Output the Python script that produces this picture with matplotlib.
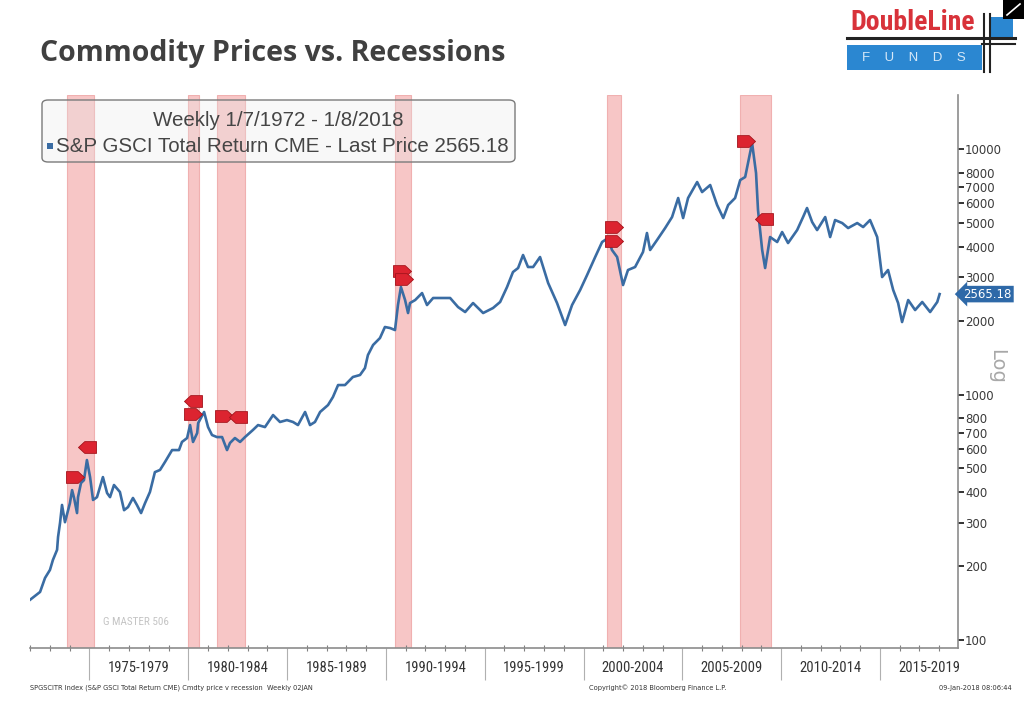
import matplotlib

matplotlib.use("Agg")
import matplotlib.pyplot as plt
from matplotlib import font_manager
from matplotlib.patches import FancyBboxPatch, Rectangle
from matplotlib.path import Path
from matplotlib.lines import Line2D

# --- data (weekly series, thinned) ---
years = [
    1972.00, 1972.50, 1972.75, 1973.00, 1973.15, 1973.36, 1973.41, 1973.51, 1973.61, 1973.76,
    1974.01, 1974.12, 1974.22, 1974.37, 1974.42, 1974.57, 1974.72, 1974.87, 1975.03, 1975.18,
    1975.38, 1975.68, 1975.89, 1976.04, 1976.24, 1976.54, 1976.75, 1976.95, 1977.20, 1977.40,
    1977.61, 1977.81, 1978.06, 1978.31, 1978.57, 1978.82, 1979.18, 1979.53, 1979.68, 1979.94,
    1980.09, 1980.24, 1980.45, 1980.50, 1980.80, 1981.00, 1981.20, 1981.45, 1981.71, 1981.96,
    1982.11, 1982.36, 1982.62, 1982.87, 1983.27, 1983.53, 1983.88, 1984.29, 1984.64, 1984.99,
    1985.30, 1985.55, 1985.91, 1986.16, 1986.41, 1986.67, 1987.07, 1987.32, 1987.58, 1987.93,
    1988.33, 1988.69, 1988.94, 1989.09, 1989.35, 1989.70, 1989.95, 1990.21, 1990.46, 1990.61,
    1990.76, 1990.97, 1991.12, 1991.22, 1991.48, 1991.83, 1992.08, 1992.39, 1992.74, 1993.25,
    1993.65, 1994.01, 1994.41, 1994.92, 1995.42, 1995.78, 1996.13, 1996.43, 1996.69, 1996.94,
    1997.19, 1997.45, 1997.80, 1998.21, 1998.66, 1999.07, 1999.42, 1999.83, 2000.18, 2000.59,
    2000.94, 2001.24, 2001.44, 2001.70, 2002.00, 2002.25, 2002.61, 2003.01, 2003.21, 2003.37,
    2003.72, 2004.13, 2004.48, 2004.79, 2005.04, 2005.29, 2005.75, 2006.00, 2006.41, 2006.76,
    2007.07, 2007.32, 2007.67, 2007.93, 2008.18, 2008.53, 2008.73, 2008.83, 2009.04, 2009.19,
    2009.44, 2009.80, 2010.05, 2010.35, 2010.81, 2011.11, 2011.31, 2011.57, 2011.82, 2012.23,
    2012.48, 2012.73, 2013.09, 2013.39, 2013.85, 2014.15, 2014.50, 2014.86, 2015.11, 2015.41,
    2015.67, 2015.92, 2016.12, 2016.43, 2016.78, 2017.14, 2017.54, 2017.90, 2018.02,
]
prices = [
    146, 157, 179, 193, 212, 233, 263, 300, 355, 302,
    361, 408, 379, 329, 382, 436, 448, 541, 461, 372,
    382, 461, 397, 382, 428, 401, 338, 348, 379, 355,
    329, 361, 401, 483, 493, 531, 594, 594, 641, 665,
    751, 641, 697, 765, 849, 737, 684, 671, 671, 594,
    635, 665, 641, 671, 717, 751, 737, 825, 773, 787,
    773, 751, 849, 751, 773, 849, 906, 977, 1093, 1093,
    1179, 1201, 1282, 1448, 1591, 1699, 1884, 1866, 1831, 2315,
    2741, 2426, 2148, 2359, 2426, 2590, 2315, 2473, 2473, 2473,
    2272, 2168, 2359, 2148, 2251, 2382, 2741, 3155, 3276, 3701,
    3307, 3307, 3632, 2846, 2359, 1919, 2315, 2666, 3067, 3632,
    4181, 4341, 3879, 3632, 2793, 3215, 3307, 3806, 4549, 3879,
    4259, 4766, 5284, 6316, 5235, 6316, 7338, 6680, 7135, 5915,
    5235, 5915, 6316, 7477, 7691, 10580, 7984, 5643, 3879, 3276,
    4381, 4181, 4591, 4141, 4677, 5284, 5751, 5041, 4677, 5284,
    4381, 5137, 4995, 4766, 4995, 4811, 5137, 4381, 3010, 3215,
    2666, 2359, 1974, 2426, 2209, 2382, 2168, 2382, 2565.18,
]
last_price = 2565.18

rec_start = [1973.87, 1980.00, 1981.47, 1990.47, 2001.19, 2007.92]
rec_end = [1975.22, 1980.55, 1982.88, 1991.27, 2001.90, 2009.49]

marker_years = [1974.27, 1974.87, 1980.24, 1980.24, 1981.81, 1982.52, 1990.82, 1990.92, 2001.55, 2001.55, 2008.23, 2009.14]
marker_values = [461, 611, 940, 833, 817, 809, 3185, 2953, 4811, 4220, 10780, 5186]
marker_dirs = ["r", "l", "l", "r", "r", "l", "r", "r", "r", "r", "r", "l"]

period_starts = [1975, 1980, 1985, 1990, 1995, 2000, 2005, 2010, 2015]
period_labels = ["1975-1979", "1980-1984", "1985-1989", "1990-1994", "1995-1999",
                 "2000-2004", "2005-2009", "2010-2014", "2015-2019"]

ytick_values = [100, 200, 300, 400, 500, 600, 700, 800, 1000,
                2000, 3000, 4000, 5000, 6000, 7000, 8000, 10000]


def pick_font(*names):
    have = {f.name for f in font_manager.fontManager.ttflist}
    for n in names:
        if n in have:
            return n
    return "DejaVu Sans"


NARROW = pick_font("Liberation Sans Narrow", "Roboto Condensed", "Lato")
SANS = pick_font("Liberation Sans", "DejaVu Sans")
TITLE_FONT = pick_font("Open Sans", "Lato", "Noto Sans")

LINE_BLUE = "#3a6ca3"
BAND = "#f7c6c6"
TXT = "#3a3a3a"

W, H = 1024, 705
fig = plt.figure(figsize=(W / 100, H / 100), dpi=100)
fig.patch.set_facecolor("white")


def fx(px):
    return px / W


def fy(py):
    return 1 - py / H


ax = fig.add_axes([fx(30), fy(648), fx(958) - fx(30), fy(95) - fy(648)])
ax.set_yscale("log")
ax.set_xlim(1971.99, 2018.95)
ax.set_ylim(92.8, 16600)

for s, e in zip(rec_start, rec_end):
    ax.axvspan(s, e, facecolor=BAND, edgecolor="#f0b0b0", lw=0.8, zorder=1)

# legend box sits in the axes so the recession bands show through its fill
ax.add_patch(FancyBboxPatch((fx(42), fy(162)), fx(515) - fx(42), fy(100) - fy(162),
                            boxstyle="round,pad=0,rounding_size=0.006",
                            transform=fig.transFigure, fc=(0.91, 0.91, 0.91, 0.3),
                            ec="#7a7a7a", lw=1.0, zorder=2, clip_on=False))

ax.plot(years, prices, color=LINE_BLUE, lw=1.9, zorder=3, solid_joinstyle="round")

# recession start/end flags
right_flag = Path([(-1, -0.65), (0.3, -0.65), (1, 0), (0.3, 0.65), (-1, 0.65), (-1, -0.65)])
left_flag = Path([(1, -0.65), (-0.3, -0.65), (-1, 0), (-0.3, 0.65), (1, 0.65), (1, -0.65)])
for xv, yv, d in zip(marker_years, marker_values, marker_dirs):
    ax.plot([xv], [yv], marker=right_flag if d == "r" else left_flag, ms=13,
            mfc="#dc2430", mec="#a3141c", mew=0.6, ls="none", zorder=4)

# spines
for side in ("top", "left"):
    ax.spines[side].set_visible(False)
ax.spines["right"].set_color("#8c8c8c")
ax.spines["bottom"].set_color("#8c8c8c")
ax.spines["right"].set_linewidth(1.2)
ax.spines["bottom"].set_linewidth(1.2)

# right log axis
ax.yaxis.tick_right()
ax.set_yticks(ytick_values)
ax.set_yticklabels([str(v) for v in ytick_values])
ax.yaxis.set_minor_locator(matplotlib.ticker.NullLocator())
ax.tick_params(axis="y", which="major", direction="out", length=4, width=1.4,
               color="#333333", labelsize=8.5, labelcolor=TXT, pad=1)

# bottom axis: yearly minor ticks, long separators every 5 years
ax.set_xticks(period_starts)
ax.set_xticklabels([])
ax.set_xticks(range(1972, 2019), minor=True)
ax.tick_params(axis="x", which="major", direction="out", length=23, width=0.8, color="#b0b0b0")
ax.tick_params(axis="x", which="minor", direction="inout", length=5, width=0.8, color="#808080")
for s, lab in zip(period_starts, period_labels):
    ax.text(s + 2.5, -0.036, lab, transform=ax.get_xaxis_transform(), ha="center", va="center",
            fontsize=10.5, color="#333333", family=NARROW)

# last price tag
ax.text(1.006, last_price, f"{last_price:.2f}", transform=ax.get_yaxis_transform(),
        ha="left", va="center", fontsize=8.5, color="white", zorder=6,
        bbox=dict(boxstyle="larrow,pad=0.15", fc="#2e69a8", ec="none"), clip_on=False)

fig.text(fx(997), fy(366), "Log", rotation=270, ha="center", va="center",
         fontsize=14, color="#a8a8a8")
fig.text(fx(103), fy(622), "G MASTER 506", ha="left", va="center", fontsize=8,
         color="#c4c4c4", family=NARROW)

# legend text
fig.text(fx(278), fy(121), "Weekly 1/7/1972 - 1/8/2018", ha="center", va="center",
         fontsize=14.8, color="#454545", family=SANS, zorder=6)
fig.add_artist(Rectangle((fx(47), fy(149)), fx(6), fy(143) - fy(149), transform=fig.transFigure,
                         fc=LINE_BLUE, ec="none", zorder=6))
fig.text(fx(56), fy(146), "S&P GSCI Total Return CME - Last Price 2565.18", ha="left",
         va="center", fontsize=14.8, color="#454545", family=SANS, zorder=6)

# title
fig.text(fx(40), fy(53), "Commodity Prices vs. Recessions", ha="left", va="center",
         fontsize=20.5, fontweight="bold", color="#404040", family=TITLE_FONT)

# DoubleLine logo
fig.text(fx(913), fy(22), "DoubleLine", ha="center", va="center", fontsize=20,
         fontweight="bold", color="#d8323a", family=NARROW)
fig.add_artist(Rectangle((fx(847), fy(70)), fx(982) - fx(847), fy(45) - fy(70),
                         transform=fig.transFigure, fc="#2b87d1", ec="none"))
fig.add_artist(Rectangle((fx(989), fy(37)), fx(1013) - fx(989), fy(17) - fy(37),
                         transform=fig.transFigure, fc="#2b87d1", ec="none"))
fig.text(fx(914), fy(58), "F    U    N    D    S", ha="center", va="center", fontsize=9.5,
         color="#d6e8f7", family=SANS)
fig.add_artist(Line2D([fx(847), fx(1015)], [fy(38), fy(38)], transform=fig.transFigure,
                      color="#222222", lw=2.2))
fig.add_artist(Line2D([fx(982), fx(1015)], [fy(44), fy(44)], transform=fig.transFigure,
                      color="#222222", lw=1.5))
for vx in (984, 990):
    fig.add_artist(Line2D([fx(vx), fx(vx)], [fy(14), fy(72)], transform=fig.transFigure,
                          color="#222222", lw=1.5))
fig.add_artist(Rectangle((fx(1003), fy(19)), fx(21), fy(0) - fy(19), transform=fig.transFigure,
                         fc="black", ec="none"))
fig.add_artist(Line2D([fx(1007), fx(1020)], [fy(15), fy(4)], transform=fig.transFigure,
                      color="white", lw=1.2))

# footer
fig.text(fx(30), fy(688), "SPGSCITR Index (S&P GSCI Total Return CME) Cmdty price v recession  Weekly 02JAN",
         ha="left", va="center", fontsize=4.8, color="#333333")
fig.text(fx(658), fy(688), "Copyright\u00a9 2018 Bloomberg Finance L.P.", ha="center", va="center",
         fontsize=4.8, color="#333333")
fig.text(fx(1012), fy(688), "09-Jan-2018 08:06:44", ha="right", va="center",
         fontsize=4.8, color="#333333")

fig.savefig("out.png", dpi=100)
